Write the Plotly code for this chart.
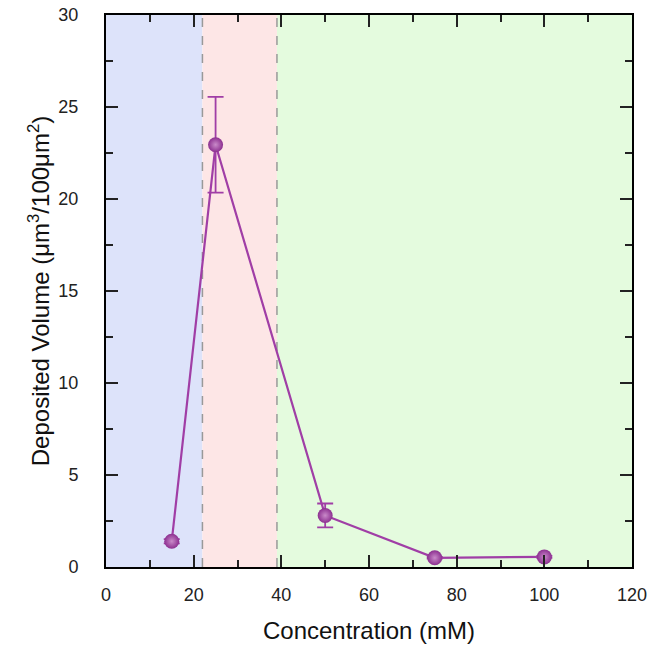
import plotly.graph_objects as go

conc = [15, 25, 50, 75, 100]
volume = [1.4, 22.95, 2.8, 0.5, 0.55]
err = [0.12, 2.6, 0.65, 0.05, 0.05]
region_edges = [0, 22, 39, 120]
region_colors = ["#dde3fa", "#fde6e6", "#e4fbde"]

fig = go.Figure()

shapes = []
for i, c in enumerate(region_colors):
    shapes.append(dict(type="rect", xref="x", yref="y", x0=region_edges[i], x1=region_edges[i+1],
                       y0=0, y1=30, fillcolor=c, line_width=0, layer="below"))
for xv in region_edges[1:3]:
    shapes.append(dict(type="line", xref="x", yref="y", x0=xv, x1=xv, y0=0, y1=30,
                       line=dict(color="#999999", width=1.5, dash="dash"), layer="below"))

fig.add_trace(go.Scatter(
    x=conc, y=volume, mode="lines+markers",
    line=dict(color="#a03ea6", width=2.2),
    marker=dict(size=15, color="#8c2f90",
                gradient=dict(type="radial", color="#c98ac9"),
                line=dict(width=0)),
    error_y=dict(type="data", array=err, visible=True, color="#a03ea6", thickness=1.8, width=8),
    showlegend=False,
))

axis_common = dict(showline=True, linecolor="black", linewidth=2, mirror="ticks",
                   ticks="inside", ticklen=12, tickwidth=2, tickcolor="#222",
                   showgrid=False, zeroline=False, automargin=False,
                   ticklabeloverflow="allow",
                   tickfont=dict(family="Liberation Sans", size=18, color="#222"))

fig.update_layout(
    width=647, height=648,
    margin=dict(l=106, r=15, t=15, b=81, autoexpand=False),
    paper_bgcolor="white", plot_bgcolor="white",
    shapes=shapes,
    xaxis=dict(range=[0, 120], dtick=20, tick0=0, ticklabelstandoff=10,
               minor=dict(dtick=10, ticks="inside", ticklen=7, tickwidth=2, tickcolor="#222"),
               title=dict(text="Concentration (mM)", font=dict(family="Liberation Sans", size=24, color="#111"), standoff=19),
               **axis_common),
    yaxis=dict(range=[0, 30], dtick=5, tick0=0, ticklabelstandoff=22,
               minor=dict(dtick=2.5, ticks="inside", ticklen=7, tickwidth=2, tickcolor="#222"),
               title=dict(text="Deposited Volume (μm<sup>3</sup>/100μm<sup>2</sup>)", font=dict(family="Liberation Sans", size=24, color="#111"), standoff=2),
               **axis_common),
)

fig.write_html("out.html", config={"displayModeBar": False},
               post_script="document.body.style.margin='0';document.body.style.overflow='hidden';")
